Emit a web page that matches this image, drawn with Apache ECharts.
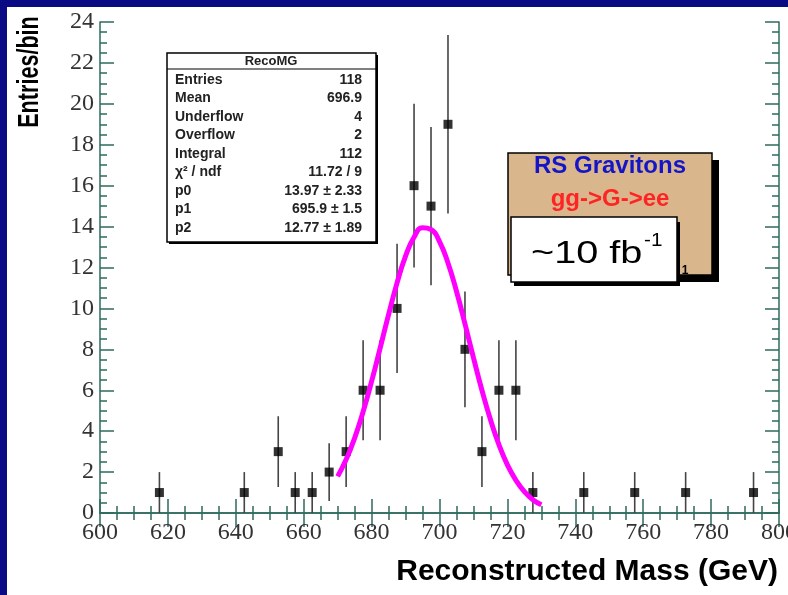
<!DOCTYPE html>
<html><head><meta charset="utf-8">
<script src="https://cdn.jsdelivr.net/npm/echarts@6/dist/echarts.min.js"></script>
<style>html,body{margin:0;padding:0;background:#fff;overflow:hidden}#c{width:788px;height:595px}</style>
</head><body><div id="c"></div>
<script>
// ---- data ----
const binCenters = [617.5, 642.5, 652.5, 657.5, 662.5, 667.5, 672.5, 677.5, 682.5, 687.5, 692.5, 697.5, 702.5, 707.5, 712.5, 717.5, 722.5, 727.5, 742.5, 757.5, 772.5, 792.5];
const entries    = [1, 1, 3, 1, 1, 2, 3, 6, 6, 10, 16, 15, 19, 8, 3, 6, 6, 1, 1, 1, 1, 1];
const errors     = [1, 1, 1.73, 1, 1, 1.41, 1.73, 2.45, 2.45, 3.16, 4, 3.87, 4.36, 2.83, 1.73, 2.45, 2.45, 1, 1, 1, 1, 1];
const fitX = [670, 672.5, 675, 677.5, 680, 682.5, 685, 687.5, 690, 692.5, 695, 697.5, 700, 702.5, 705, 707.5, 710, 712.5, 715, 717.5, 720, 722.5, 725, 727.5, 730];
const fitY = [1.79, 2.61, 3.66, 4.95, 6.43, 8.05, 9.70, 11.25, 12.56, 13.48, 13.94, 13.86, 13.27, 12.22, 10.84, 9.25, 7.59, 6.00, 4.57, 3.34, 2.35, 1.60, 1.04, 0.65, 0.40];
const statsTitle = 'RecoMG';
const statsLabels = ['Entries', 'Mean', 'Underflow', 'Overflow', 'Integral', 'χ² / ndf', 'p0', 'p1', 'p2'];
const statsValues = ['118', '696.9', '4', '2', '112', '11.72 / 9', '13.97 ± 2.33', '695.9 ± 1.5', '12.77 ± 1.89'];
const xTitle = 'Reconstructed Mass (GeV)';
const yTitle = 'Entries/bin';
const boxLine1 = 'RS Gravitons';
const boxLine2 = 'gg->G->ee';
const lumiText = '~10 fb';
const lumiSup = '-1';

// ---- chart ----
const axisColor = '#2e6b5e';
const labelFont = { fontFamily: 'Liberation Serif', fontSize: 24, color: '#333' };
function mkX(pos, labels) {
  return {
    type: 'value', position: pos, min: 600, max: 800, interval: 20,
    axisLine: { show: true, lineStyle: { color: axisColor, width: 1.5 } },
    axisTick: { show: true, inside: true, length: 14, lineStyle: { color: axisColor, width: 1.5 } },
    minorTick: { show: true, splitNumber: 4, length: 7, lineStyle: { color: axisColor, width: 1.5 } },
    splitLine: { show: false },
    axisLabel: Object.assign({ show: labels, margin: 8, showMinLabel: true, showMaxLabel: true }, labelFont)
  };
}
function mkY(pos, labels) {
  return {
    type: 'value', position: pos, min: 0, max: 24, interval: 2,
    axisLine: { show: true, lineStyle: { color: axisColor, width: 1.5 } },
    axisTick: { show: true, inside: true, length: 14, lineStyle: { color: axisColor, width: 1.5 } },
    minorTick: { show: true, splitNumber: 4, length: 7, lineStyle: { color: axisColor, width: 1.5 } },
    splitLine: { show: false },
    axisLabel: Object.assign({ show: labels, margin: 6, showMinLabel: true, showMaxLabel: true }, labelFont)
  };
}

const pts = binCenters.map((x, i) => [x, entries[i], errors[i]]);
const fit = fitX.map((x, i) => [x, fitY[i]]);

const statsRowsY = [80, 98.5, 117, 135.5, 154, 172.5, 191, 209.5, 228];
const statsFont = 'bold 14px "Liberation Sans"';
const graphics = [
  { type: 'rect', shape: { x: 0, y: 0, width: 7, height: 595 }, style: { fill: '#0a0a84' }, z: 100 },
  { type: 'rect', shape: { x: 0, y: 0, width: 788, height: 7 }, style: { fill: '#0a0a84' }, z: 100 },
  // y title
  { type: 'group', x: 30, y: 72, rotation: Math.PI / 2, z: 100, children: [
    { type: 'text', scaleX: 0.72, style: { text: yTitle, font: 'bold 30px "Liberation Sans"', fill: '#000', textAlign: 'center', textVerticalAlign: 'middle' } }
  ] },
  // x title
  { type: 'text', x: 778, y: 572, z: 100, style: { text: xTitle, font: 'bold 30px "Liberation Sans"', fill: '#000', textAlign: 'right', textVerticalAlign: 'middle' } },
  // stats box
  { type: 'rect', shape: { x: 169, y: 55, width: 209, height: 189 }, style: { fill: '#000' }, z: 50 },
  { type: 'rect', shape: { x: 167, y: 53, width: 209, height: 189 }, style: { fill: '#fff', stroke: '#000', lineWidth: 1.5 }, z: 51 },
  { type: 'line', shape: { x1: 167, y1: 69, x2: 376, y2: 69 }, style: { stroke: '#000', lineWidth: 1 }, z: 52 },
  { type: 'text', x: 271, y: 61, z: 52, style: { text: statsTitle, font: 'bold 13px "Liberation Sans"', fill: '#222', textAlign: 'center', textVerticalAlign: 'middle' } },
  // RS box
  { type: 'rect', shape: { x: 515, y: 160, width: 204, height: 122 }, style: { fill: '#000' }, z: 50 },
  { type: 'rect', shape: { x: 508, y: 153, width: 204, height: 122 }, style: { fill: '#dab68c', stroke: '#000', lineWidth: 1.5 }, z: 51 },
  { type: 'text', x: 610, y: 166, z: 52, style: { text: boxLine1, font: 'bold 24px "Liberation Sans"', fill: '#1515c8', textAlign: 'center', textVerticalAlign: 'middle' } },
  { type: 'text', x: 610, y: 199, z: 52, style: { text: boxLine2, font: 'bold 24px "Liberation Sans"', fill: '#ff2424', textAlign: 'center', textVerticalAlign: 'middle' } },
  { type: 'text', x: 685, y: 271, z: 52, style: { text: '1', font: 'bold 12px "Liberation Sans"', fill: '#000', textAlign: 'center', textVerticalAlign: 'middle' } },
  // lumi box
  { type: 'rect', shape: { x: 514, y: 222, width: 166, height: 64 }, style: { fill: '#000' }, z: 53 },
  { type: 'rect', shape: { x: 511, y: 217, width: 166, height: 65 }, style: { fill: '#fff', stroke: '#000', lineWidth: 1.5 }, z: 54 },
  { type: 'text', x: 531, y: 254, scaleX: 1.28, z: 55, style: { text: lumiText, font: '31px "Liberation Sans"', fill: '#000', textAlign: 'left', textVerticalAlign: 'middle' } },
  { type: 'text', x: 644, y: 241, scaleX: 1.15, z: 55, style: { text: lumiSup, font: '18px "Liberation Sans"', fill: '#000', textAlign: 'left', textVerticalAlign: 'middle' } }
];
statsLabels.forEach((t, i) => {
  graphics.push({ type: 'text', x: 175, y: statsRowsY[i], z: 52, style: { text: t, font: statsFont, fill: '#222', textAlign: 'left', textVerticalAlign: 'middle' } });
  graphics.push({ type: 'text', x: 362, y: statsRowsY[i], z: 52, style: { text: statsValues[i], font: statsFont, fill: '#222', textAlign: 'right', textVerticalAlign: 'middle' } });
});

const chart = echarts.init(document.getElementById('c'), null, { renderer: 'canvas' });
chart.setOption({
  backgroundColor: '#fff',
  animation: false,
  grid: { left: 100, top: 22, right: 9, bottom: 82, containLabel: false, outerBoundsMode: 'none' },
  xAxis: [mkX('bottom', true), mkX('top', false)],
  yAxis: [mkY('left', true), mkY('right', false)],
  series: [
    {
      type: 'custom', xAxisIndex: 0, yAxisIndex: 0, data: pts, z: 3,
      renderItem: function (params, api) {
        const x = api.value(0), y = api.value(1), e = api.value(2);
        const a = api.coord([x, y + e]), b = api.coord([x, Math.max(0, y - e)]);
        return { type: 'line', shape: { x1: a[0], y1: a[1], x2: b[0], y2: b[1] }, style: { stroke: '#444', lineWidth: 1.6 } };
      }
    },
    { type: 'scatter', data: pts.map(p => [p[0], p[1]]), symbol: 'rect', symbolSize: 9, itemStyle: { color: '#000' }, z: 4 },
    { type: 'line', data: fit, smooth: true, showSymbol: false, lineStyle: { color: '#ff00ff', width: 5 }, z: 5 }
  ],
  graphic: graphics
});
</script></body></html>
